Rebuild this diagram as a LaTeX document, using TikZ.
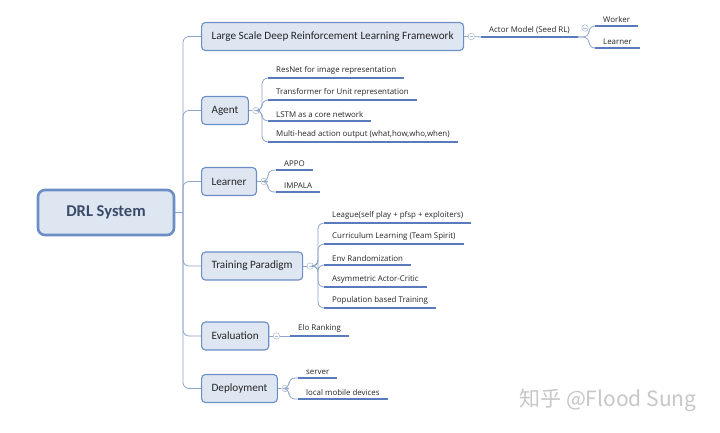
\documentclass[tikz,border=0pt]{standalone}
\usepackage{fontspec}
\setmainfont{Carlito}
\newfontfamily\leaffont{Open Sans}
\newfontfamily\cjkfont{Noto Sans CJK SC}
\usetikzlibrary{positioning}

\definecolor{topicfill}{HTML}{DEE6F1}
\definecolor{topicline}{HTML}{6B8EC7}
\definecolor{branchline}{HTML}{8DA4CB}
\definecolor{leafline}{HTML}{5A7BBB}
\definecolor{roottext}{HTML}{3A4B6A}
\definecolor{foldline}{HTML}{B3C0D4}

\tikzset{
  % central topic
  root/.style = {
    draw = topicline,
    fill = topicfill,
    line width = 2.6pt,
    rounded corners = 7pt,
    minimum width = 136pt,
    minimum height = 45pt,
    text = roottext,
    font = \fontsize{16.5}{18}\selectfont\bfseries
  },
  % main topics
  topic/.style = {
    draw = topicline,
    fill = topicfill,
    line width = 1.1pt,
    rounded corners = 4pt,
    minimum height = 28pt,
    inner xsep = 10pt,
    anchor = west,
    text = black!85,
    font = \fontsize{11.2}{13}\selectfont
  },
  % sub topic, sits on its underline
  leaf/.style = {
    anchor = south west,
    inner xsep = 8pt,
    inner ysep = 3pt,
    text = black!85,
    font = \leaffont\fontsize{7.9}{9}\selectfont
  },
  % collapse marker
  fold/.style = {
    draw = foldline,
    fill = white,
    circle,
    line width = 0.6pt,
    minimum size = 6.5pt,
    inner sep = 0,
    path picture = {
      \draw[foldline, line width = 0.5pt]
      ([xshift=-1.6pt]path picture bounding box.center)
      -- ([xshift=1.6pt]path picture bounding box.center);
    }
  },
  branch/.style = {
    draw = branchline,
    line width = 0.8pt,
    rounded corners = 6pt
  },
  uline/.style = {
    draw = leafline,
    line width = 2.2pt
  },
  node distance = 3.5pt
}

\begin{document}
\begin{tikzpicture}[x=1pt, y=-1pt]
    \fill[white] (0,0) rectangle (720,432);
    \useasboundingbox (0,0) rectangle (720,432);

    \node[root] (drl) at (106,212.5) {DRL System};

    \node[topic] (frame) at (201,36.5) {Large Scale Deep Reinforcement Learning Framework};
    \node[topic] (agent) at (201,110.5) {Agent};
    \node[topic] (learner) at (201,181.5) {Learner};
    \node[topic] (train) at (201,266) {Training Paradigm};
    \node[topic] (eval) at (201,336) {Evaluation};
    \node[topic] (deploy) at (201,388.5) {Deployment};

    \coordinate (trunk) at (183,212.5);
    \draw[branch] (drl.east) -- (trunk);
    \foreach \t in {frame,agent,learner,train,eval,deploy} {
      \node[fold, right=of \t] (\t-fold) {};
      \draw[branch] (trunk) |- (\t.west);
      \draw[branch] (\t.east) -- (\t-fold.west);
    }

    % framework
    \node[leaf] (actor) at (481,37) {Actor Model (Seed RL)};
    \node[fold] (actor-fold) at (585,28) {};
    \coordinate (actor-fork) at (589,37);
    \node[leaf] (worker) at (595,26) {Worker};
    \node[leaf] (learn2) at (595,48) {Learner};
    \draw[branch] (frame-fold) -- (actor.south west);
    \foreach \l in {worker,learn2}
      \draw[branch] (actor.south east) -- (actor-fork) |- (\l.south west);

    % agent
    \coordinate (agent-fork) at (262,110.5);
    \node[leaf] (resnet) at (268,78) {ResNet for image representation};
    \node[leaf] (transf) at (268,100) {Transformer for Unit representation};
    \node[leaf] (lstm) at (268,121) {LSTM as a core network};
    \node[leaf] (multi) at (268,142) {Multi-head action output (what,how,who,when)};
    \foreach \l in {resnet,transf,lstm,multi}
      \draw[branch] (agent-fold) -- (agent-fork) |- (\l.south west);

    % learner
    \coordinate (learner-fork) at (268,181.5);
    \node[leaf] (appo) at (276,170) {APPO};
    \node[leaf] (impala) at (276,192) {IMPALA};
    \foreach \l in {appo,impala}
      \draw[branch] (learner-fold) -- (learner-fork) |- (\l.south west);

    % training paradigm
    \coordinate (train-fork) at (318,266);
    \node[leaf] (league) at (324,223) {League(self play + pfsp + exploiters)};
    \node[leaf] (curric) at (324,244) {Curriculum Learning (Team Spirit)};
    \node[leaf] (envrand) at (324,265) {Env Randomization};
    \node[leaf] (asym) at (324,287) {Asymmetric Actor-Critic};
    \node[leaf] (pbt) at (324,308) {Population based Training};
    \foreach \l in {league,curric,envrand,asym,pbt}
      \draw[branch] (train-fold) -- (train-fork) |- (\l.south west);

    % evaluation
    \node[leaf] (elo) at (290,336) {Elo Ranking};
    \draw[branch] (eval-fold) -- (elo.south west);

    % deployment
    \coordinate (deploy-fork) at (289,388.5);
    \node[leaf] (server) at (298,378) {server};
    \node[leaf] (mobile) at (298,399) {local mobile devices};
    \foreach \l in {server,mobile}
      \draw[branch] (deploy-fold) -- (deploy-fork) |- (\l.south west);

    \foreach \l in {actor,worker,learn2,resnet,transf,lstm,multi,appo,impala,
                    league,curric,envrand,asym,pbt,elo,server,mobile}
      \draw[uline] (\l.south west) -- (\l.south east);

    \node[text=black!22, font=\cjkfont\fontsize{21}{24}\selectfont] (mark)
      at (608,400) {知乎 @Flood Sung};
\end{tikzpicture}
\end{document}
